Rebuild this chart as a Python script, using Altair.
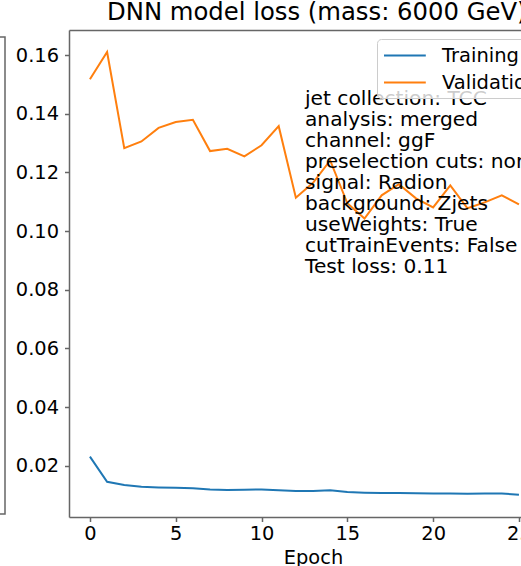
import altair as alt
import pandas as pd

# Loss per epoch for the two series
epochs = list(range(26))
training_loss = [0.0231, 0.0145, 0.0134, 0.0128, 0.0126, 0.0125, 0.0123, 0.0119,
                 0.0117, 0.0118, 0.0119, 0.0116, 0.0114, 0.0114, 0.0116, 0.0110,
                 0.0108, 0.0107, 0.0107, 0.0106, 0.0105, 0.0105, 0.0104, 0.0105,
                 0.0105, 0.0101]
validation_loss = [0.1518, 0.1611, 0.1283, 0.1306, 0.1352, 0.1372, 0.1380, 0.1273,
                   0.1281, 0.1255, 0.1293, 0.1358, 0.1114, 0.1165, 0.1241, 0.1095,
                   0.1043, 0.1122, 0.1160, 0.1112, 0.1081, 0.1156, 0.1078, 0.1098,
                   0.1122, 0.1091]
series_names = ["Training", "Validation"]
series_colors = ["#1f77b4", "#ff7f0e"]
x_ticks = [0, 5, 10, 15, 20, 25]
y_ticks = [0.02, 0.04, 0.06, 0.08, 0.10, 0.12, 0.14, 0.16]
info_lines = [
    "jet collection: TCC",
    "analysis: merged",
    "channel: ggF",
    "preselection cuts: none",
    "signal: Radion",
    "background: Zjets",
    "useWeights: True",
    "cutTrainEvents: False",
    "Test loss: 0.11",
]
title_text = "DNN model loss (mass: 6000 GeV)"

rows = []
for name, values in zip(series_names, [training_loss, validation_loss]):
    for e, v in zip(epochs, values):
        rows.append({"epoch": e, "loss": v, "series": name})
df = pd.DataFrame(rows)

FONT = "DejaVu Sans"
SPINE = "#666666"

x_scale = alt.Scale(domain=[-1.22, 25.12], nice=False, zero=False)
y_scale = alt.Scale(domain=[0.0025, 0.1686], nice=False, zero=False)

lines = alt.Chart(df).mark_line(strokeWidth=2, clip=True).encode(
    x=alt.X("epoch:Q", scale=x_scale,
            axis=alt.Axis(orient="bottom", values=x_ticks, title="Epoch",
                          labelPadding=3, titlePadding=6, titleX=244,
                          titleAlign="center")),
    y=alt.Y("loss:Q", scale=y_scale,
            axis=alt.Axis(values=y_ticks, format=".2f", title=None, labelPadding=6)),
    color=alt.Color(
        "series:N",
        scale=alt.Scale(domain=series_names, range=series_colors),
        legend=alt.Legend(
            title=None, orient="none", legendX=308, legendY=9, direction="vertical",
            fillColor="rgba(255,255,255,0.8)", strokeColor="#cccccc", cornerRadius=4,
            padding=6, rowPadding=7, labelFont=FONT, labelFontSize=19.5,
            labelColor="black", symbolType="M-1,0H3.4", symbolSize=361,
            symbolStrokeWidth=2, labelOffset=38,
        ),
    ),
)

# upper frame edge of the axes box
top_spine = alt.Chart(df).mark_rule(opacity=0).encode(
    x=alt.X("epoch:Q", scale=x_scale,
            axis=alt.Axis(orient="top", labels=False, ticks=False, title=None)),
)

# frame of the neighbouring panel on the left
neighbor = alt.Chart(alt.Data(values=[{}])).mark_rect(
    fillOpacity=0, stroke=SPINE, strokeWidth=1.5
).encode(x=alt.value(-120), x2=alt.value(-64), y=alt.value(7), y2=alt.value(484))

info = alt.Chart(alt.Data(values=[{}])).mark_text(
    text=info_lines, align="left", baseline="alphabetic", fontSize=20.2,
    lineHeight=21, font=FONT, color="black",
).encode(x=alt.value(236), y=alt.value(74.5))

chart = (
    alt.layer(neighbor, top_spine, lines, info)
    .resolve_axis(x="independent")
    .properties(
        width=452,
        height=487,
        autosize=alt.AutoSizeParams(type="none"),
        padding={"left": 69, "top": 30, "right": 0, "bottom": 49},
        title=alt.TitleParams(
            text=title_text, fontSize=24.3, font=FONT, fontWeight="normal",
            color="black", anchor="start", frame="group", dx=38, dy=22, offset=8,
            baseline="alphabetic",
        ),
    )
    .configure_view(stroke=None)
    .configure_axis(
        labelFont=FONT, labelFontSize=19.4, labelColor="black",
        titleFont=FONT, titleFontSize=19.4, titleFontWeight="normal", titleColor="black",
        domainColor=SPINE, domainWidth=1.5, tickColor=SPINE, tickWidth=1.5,
        tickSize=4.5, grid=False,
    )
)

chart.save("out.html", embed_options={"renderer": "svg", "actions": False})
